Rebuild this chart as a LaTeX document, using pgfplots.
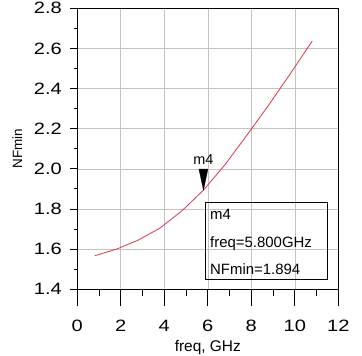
\documentclass[border=0pt]{standalone}
\usepackage{fontspec}
\setmainfont{Liberation Sans}
\newfontfamily\tickfont[FakeStretch=1.22]{Liberation Sans}
\usepackage{pgfplots}
\pgfplotsset{compat=1.18}
\definecolor{curvecol}{RGB}{215,55,75}
\definecolor{gridcol}{RGB}{195,195,195}
\pgfdeclareplotmark{downtri}{%
  \pgfpathmoveto{\pgfpoint{0bp}{0bp}}%
  \pgfpathlineto{\pgfpoint{-4.5bp}{21bp}}%
  \pgfpathlineto{\pgfpoint{4.5bp}{21bp}}%
  \pgfpathclose\pgfusepathqfillstroke}
\begin{document}
\begin{tikzpicture}
\begin{axis}[
  at={(0,0)}, anchor=south west,
  scale only axis, width=261bp, height=281bp,
  xmin=0, xmax=12, ymin=1.4, ymax=2.8,
  xtick={0,2,...,12}, ytick={1.4,1.6,...,2.8},
  minor y tick num=1,
  xtick pos=bottom, ytick pos=left,
  xtick style={draw=none},
  xticklabels={},
  tick align=outside,
  major tick length=7bp, minor tick length=3.5bp,
  ytick style={black, line width=0.9bp},
  axis line style={black, line width=1.2bp},
  grid=major,
  major grid style={gridcol, line width=0.6bp},
  /pgf/number format/assume math mode=true,
  ticklabel style={font=\tickfont\fontsize{16.5}{18}\selectfont},
  yticklabel style={xshift=-5bp, /pgf/number format/.cd, fixed, fixed zerofill, precision=1},
  xlabel={freq, GHz},
  ylabel={NFmin},
  xlabel style={font=\fontsize{15.5}{17}\selectfont, at={(axis description cs:0.5,-0.222)}, anchor=base},
  ylabel style={font=\fontsize{13.5}{15}\selectfont, at={(axis description cs:-0.23,0.5)}, anchor=center},
]
\addplot[curvecol, line width=0.8bp] coordinates {
  (0.8,1.567) (1.8,1.600) (2.8,1.645) (3.8,1.705) (4.8,1.790)
  (5.8,1.894) (6.8,2.022) (7.8,2.168) (8.8,2.318) (9.8,2.475) (10.8,2.637)
};
\addplot[only marks, mark=downtri, mark options={black, fill=black, line width=0.3bp}] coordinates {(5.8,1.894)};
\node[font=\fontsize{14.5}{16}\selectfont, anchor=base] at (axis cs:5.8,2.02) {m4};
\draw[black, line width=0.9bp] (axis cs:5.9,1.451) rectangle (axis cs:11.51,1.832);
\node[font=\fontsize{15}{17}\selectfont, anchor=base west, inner sep=0pt] at (axis cs:6.1,1.7456) {m4};
\node[font=\fontsize{15}{17}\selectfont, anchor=base west, inner sep=0pt] at (axis cs:6.1,1.6095) {freq=5.800GHz};
\node[font=\fontsize{15}{17}\selectfont, anchor=base west, inner sep=0pt] at (axis cs:6.1,1.4748) {NFmin=1.894};
\end{axis}
\begin{axis}[
  at={(0,0)}, anchor=south west,
  scale only axis, width=261bp, height=281bp,
  xmin=0, xmax=12, ymin=1.4, ymax=2.8,
  hide y axis,
  axis x line*=bottom,
  x axis line style={black, line width=1.2bp, -},
  xtick={0,2,...,12}, minor x tick num=1,
  tick align=outside,
  major tick length=17bp, minor tick length=7bp,
  xtick style={black, line width=0.9bp},
  /pgf/number format/assume math mode=true,
  xticklabel style={font=\tickfont\fontsize{16.5}{18}\selectfont, anchor=north, yshift=-10bp},
]
\end{axis}
\pgfresetboundingbox
\path[use as bounding box] (-77.3bp,-66.7bp) rectangle (284.7bp,289.3bp);
\end{tikzpicture}
\end{document}
